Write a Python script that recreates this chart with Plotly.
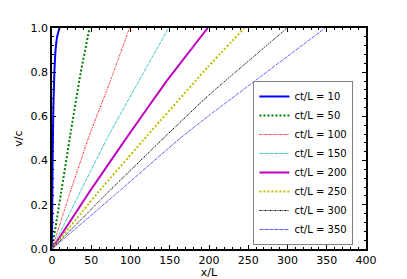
import plotly.graph_objects as go

labels = ["ct/L = 10", "ct/L = 50", "ct/L = 100", "ct/L = 150",
          "ct/L = 200", "ct/L = 250", "ct/L = 300", "ct/L = 350"]

x10 = [0, 0.3, 0.8, 1.7, 3.0, 4.2, 6.5, 9.5]
y10 = [0, 0.2, 0.4, 0.63, 0.8, 0.886, 0.96, 1.0]
x50 = [0, 11.8, 23.3, 36, 47.8]
y50 = [0, 0.259, 0.516, 0.787, 1.0]
x100 = [0, 23.3, 47.8, 74.0, 98.7]
y100 = [0, 0.259, 0.516, 0.757, 1.0]
x150 = [0, 36, 72.5, 110.2, 148.4]
y150 = [0, 0.259, 0.516, 0.757, 1.0]
x200 = [0, 47.8, 97.5, 145.5, 198.4]
y200 = [0, 0.259, 0.516, 0.757, 1.0]
x250 = [0, 59.3, 122.1, 198.4, 245]
y250 = [0, 0.259, 0.516, 0.823, 1.0]
x300 = [0, 72, 146.3, 199.3, 299.5]
y300 = [0, 0.259, 0.516, 0.695, 1.0]
x350 = [0, 84.7, 163.2, 199.3, 348]
y350 = [0, 0.259, 0.501, 0.602, 1.0]

xs = [x10, x50, x100, x150, x200, x250, x300, x350]
ys = [y10, y50, y100, y150, y200, y250, y300, y350]

styles = [
    dict(color="#0000ff", width=2, dash="solid"),
    dict(color="#008000", width=2, dash="2px,2px"),
    dict(color="#ff2020", width=1, dash="2px,1px,1px,1px"),
    dict(color="#40c8c8", width=1, dash="4px,1px"),
    dict(color="#bf00bf", width=2, dash="solid"),
    dict(color="#bfbf00", width=2, dash="2px,2px"),
    dict(color="#000000", width=1, dash="2px,1px,1px,1px"),
    dict(color="#6060ff", width=1, dash="4px,1px"),
]

fig = go.Figure()
for lab, xv, yv, st in zip(labels, xs, ys, styles):
    fig.add_trace(go.Scatter(x=xv, y=yv, mode="lines", name=lab,
                             line=dict(color=st["color"], width=st["width"],
                                       dash=st["dash"], shape="spline", smoothing=0.3)))

axis_common = dict(showline=True, linecolor="black", linewidth=1.5, mirror="allticks",
                   ticks="inside", ticklen=4, tickwidth=1, tickcolor="black",
                   showgrid=False, zeroline=False, automargin=False,
                   tickfont=dict(family="DejaVu Sans", size=11, color="black"))

fig.update_layout(
    width=407, height=279,
    margin=dict(l=52, r=41, t=28, b=30),
    paper_bgcolor="white", plot_bgcolor="white",
    font=dict(family="DejaVu Sans", size=11, color="black"),
    xaxis=dict(range=[0, 400], dtick=50, tick0=0,
               minor=dict(dtick=10, ticks="inside", ticklen=2, tickcolor="black"),
               title=dict(text="x/L", standoff=0, font=dict(size=11)), **axis_common),
    yaxis=dict(range=[0, 1], dtick=0.2, tick0=0, tickformat=".1f",
               minor=dict(dtick=0.04, ticks="inside", ticklen=2, tickcolor="black"),
               title=dict(text="v/c", standoff=6, font=dict(size=11)), **axis_common),
    legend=dict(x=0.96, y=0.018, xanchor="right", yanchor="bottom",
                bgcolor="white", bordercolor="#808080", borderwidth=1,
                font=dict(family="DejaVu Sans", size=10), tracegroupgap=0,
                itemwidth=30),
    showlegend=True,
)

fig.write_html("out.html", config={"displayModeBar": False},
               post_script="document.body.style.margin='0px';")
